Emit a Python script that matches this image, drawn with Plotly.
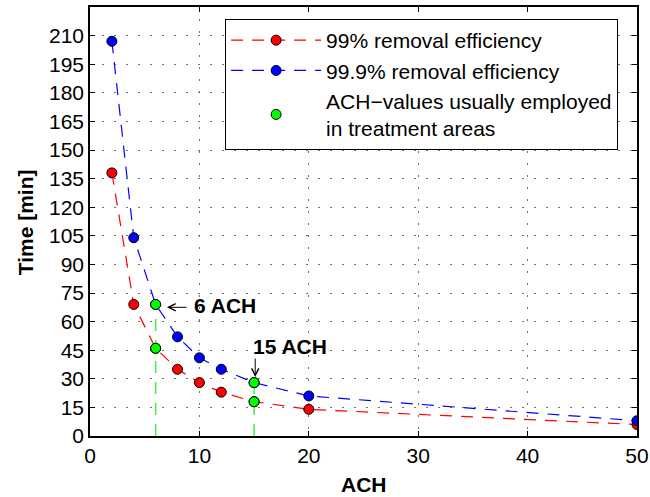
import plotly.graph_objects as go

ach = [2, 4, 6, 8, 10, 12, 15, 20, 50]
t99 = [138, 69, 46, 35, 28, 23, 18, 14, 6]
t999 = [207, 104, 69, 52, 41, 35, 28, 21, 8]
green_x = [6, 6, 15, 15]
green_y = [69, 46, 28, 18]
vline6 = ([6, 6], [0, 69])
vline15 = ([15, 15], [0, 28])
yticks = list(range(0, 211, 15))
xticks = [0, 10, 20, 30, 40, 50]

FONT = "Liberation Sans, Arial, Helvetica, sans-serif"
DASH = "12px,9px"
FS = 21

fig = go.Figure()

fig.add_trace(go.Scatter(x=vline6[0], y=vline6[1], mode="lines",
                         line=dict(color="#44ee44", width=1.5, dash=DASH),
                         showlegend=False, hoverinfo="skip"))
fig.add_trace(go.Scatter(x=vline15[0], y=vline15[1], mode="lines",
                         line=dict(color="#44ee44", width=1.5, dash=DASH),
                         showlegend=False, hoverinfo="skip"))

fig.add_trace(go.Scatter(x=ach, y=t99, mode="lines+markers",
                         name="99% removal efficiency",
                         line=dict(color="#ff0000", width=1.2, dash=DASH),
                         marker=dict(color="#ff0000", size=10,
                                     line=dict(color="black", width=1))))
fig.add_trace(go.Scatter(x=ach, y=t999, mode="lines+markers",
                         name="99.9% removal efficiency",
                         line=dict(color="#0000ff", width=1.2, dash=DASH),
                         marker=dict(color="#0000ff", size=10,
                                     line=dict(color="black", width=1))))
fig.add_trace(go.Scatter(x=green_x, y=green_y, mode="markers",
                         name="ACH−values usually employed<br>in treatment areas",
                         marker=dict(color="#00ff00", size=10,
                                     line=dict(color="black", width=1))))

# "6 ACH" label with left arrow
fig.add_annotation(x=9.35, y=68.5, xref="x", yref="y", xanchor="left", yanchor="middle",
                   text="<b>6 ACH</b>", showarrow=False,
                   font=dict(family=FONT, size=FS, color="black"))
fig.add_annotation(x=7.04, y=67.5, xref="x", yref="y", text="", showarrow=True,
                   ax=21, ay=0, arrowhead=5, arrowsize=1.4, arrowwidth=1,
                   arrowcolor="black", standoff=0, startstandoff=0)
# "15 ACH" label with down arrow
fig.add_annotation(x=14.72, y=47, xref="x", yref="y", xanchor="left", yanchor="middle",
                   text="<b>15 ACH</b>", showarrow=False,
                   font=dict(family=FONT, size=FS, color="black"))
fig.add_annotation(x=15.1, y=30.9, xref="x", yref="y", text="", showarrow=True,
                   ax=0, ay=-20, arrowhead=5, arrowsize=1.4, arrowwidth=1,
                   arrowcolor="black", standoff=0, startstandoff=0)

# axis titles
fig.add_annotation(x=-0.119, y=0.498, xref="paper", yref="paper", xanchor="center",
                   yanchor="middle", text="<b>Time [min]</b>", textangle=-90, showarrow=False,
                   font=dict(family=FONT, size=FS, color="black"))
fig.add_annotation(x=0.501, y=-0.114, xref="paper", yref="paper", xanchor="center",
                   yanchor="middle", text="<b>ACH</b>", showarrow=False,
                   font=dict(family=FONT, size=FS, color="black"))

axis_common = dict(showline=True, linecolor="black", linewidth=1.5, mirror="allticks",
                   ticks="inside", ticklen=5, tickcolor="black", tickwidth=1,
                   showgrid=True, gridcolor="#707070", griddash="2px,10px", gridwidth=1,
                   zeroline=False, automargin=False,
                   tickfont=dict(family=FONT, size=FS, color="black"))

fig.update_xaxes(range=[0, 50], tickvals=xticks, **axis_common)
fig.update_yaxes(range=[0, 225], tickvals=yticks, **axis_common)

fig.update_layout(
    width=650, height=497,
    margin=dict(l=90, r=13, t=7, b=61),
    plot_bgcolor="white", paper_bgcolor="white",
    font=dict(family=FONT, color="black"),
    legend=dict(x=0.247, y=0.972, xanchor="left", yanchor="top",
                bgcolor="white", bordercolor="black", borderwidth=1,
                font=dict(family=FONT, size=FS, color="black"),
                itemwidth=90, tracegroupgap=0),
    showlegend=True,
)

fig.write_html("out.html", config={"displayModeBar": False},
               post_script="document.body.style.margin='0px';document.body.style.padding='0px';")
